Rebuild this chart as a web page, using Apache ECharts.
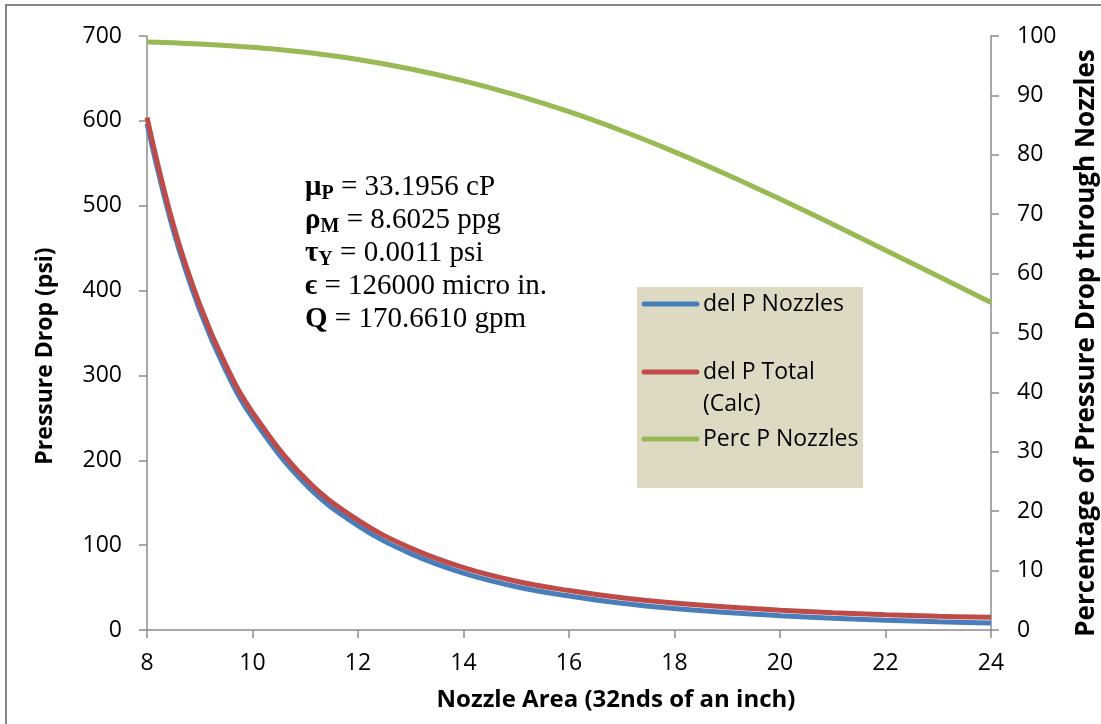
<!DOCTYPE html>
<html>
<head>
<meta charset="utf-8">
<script src="https://cdn.jsdelivr.net/npm/echarts@6/dist/echarts.min.js"></script>
<style>
  html, body { margin: 0; padding: 0; background: #ffffff; }
  #chart { width: 1101px; height: 724px; }
</style>
</head>
<body>
<div id="chart"></div>
<script>
// Nozzle size in 32nds of an inch
const nozzleSizes = [8, 8.5, 9, 9.5, 10, 11, 12, 13, 14, 15, 16, 17, 18, 19, 20, 21, 22, 23, 24];
// Pressure drop across the nozzles (psi)
const delPNozzles = [597, 471, 377, 305, 250, 172, 123, 90, 67, 51, 40, 31.6, 25.3, 20.5, 16.8, 13.9, 11.5, 9.7, 8.3];
// Total calculated pressure drop (psi)
const delPTotal = [604, 477.5, 383.5, 311.5, 256.5, 178.5, 129.5, 96.5, 73.5, 57.5, 46.5, 38, 31.8, 27, 23.3, 20.4, 18, 16.2, 15];
// Share of the total drop taken by the nozzles (%)
const percPNozzles = [99.0, 98.85, 98.65, 98.4, 98.1, 97.25, 96.05, 94.45, 92.45, 90.05, 87.25, 84.05, 80.5, 76.65, 72.55, 68.3, 63.95, 59.55, 55.15];

const seriesNames = ['del P Nozzles', 'del P Total (Calc)', 'Perc P Nozzles'];
const legendLabels = ['del P Nozzles', 'del P Total\n(Calc)', 'Perc P Nozzles'];
const seriesColors = ['#4A7EBB', '#BE4B48', '#98B954'];

const axisTitles = {
  x: 'Nozzle Area (32nds of an inch)',
  left: 'Pressure Drop (psi)',
  right: 'Percentage of Pressure Drop through Nozzles'
};

const SANS = '"Open Sans", "Noto Sans", sans-serif';
const SERIF = '"Liberation Serif", "DejaVu Serif", serif';
const AXIS_GREY = '#8c8c8c';

const pair = (xs, ys) => xs.map((x, i) => [x, ys[i]]);

const chart = echarts.init(document.getElementById('chart'), null, { renderer: 'canvas' });

const axisCommon = {
  axisLine: { show: true, lineStyle: { color: AXIS_GREY, width: 1.5 } },
  axisTick: { show: true, inside: false, length: 8, lineStyle: { color: AXIS_GREY, width: 1.5 } },
  splitLine: { show: false },
  axisLabel: { color: '#000', fontFamily: SANS, fontSize: 23 }
};

// Hand-built legend panel
const legendGraphics = [
  { type: 'rect', shape: { x: 637, y: 287, width: 226, height: 201 }, style: { fill: '#DDD9C3' }, z: 10 }
];
const legendRows = [304, 372, 439];
legendRows.forEach((y, i) => {
  legendGraphics.push({
    type: 'line', z: 11,
    shape: { x1: 644, y1: y, x2: 697, y2: y },
    style: { stroke: seriesColors[i], lineWidth: 5, lineCap: 'round' }
  });
  legendGraphics.push({
    type: 'text', z: 11, x: 703, y: y - 16,
    style: {
      text: legendLabels[i], fill: '#000', font: '23px ' + SANS,
      lineHeight: 32, textAlign: 'left', textVerticalAlign: 'top'
    }
  });
});

// Fluid property annotation
const noteText = [
  '{g|μ}{s|P}{t| = 33.1956 cP}',
  '{g|ρ}{s|M}{t| = 8.6025 ppg}',
  '{g|τ}{s|Y}{t| = 0.0011 psi}',
  '{g|ϵ}{t| = 126000 micro in.}',
  '{g|Q}{t| = 170.6610 gpm}'
].join('\n');

const option = {
  animation: false,
  backgroundColor: '#ffffff',
  grid: { left: 147, right: 110, top: 36, bottom: 94, containLabel: false },
  xAxis: Object.assign({}, axisCommon, {
    type: 'value', min: 8, max: 24, interval: 2,
    axisLabel: Object.assign({}, axisCommon.axisLabel, { margin: 22 })
  }),
  yAxis: [
    Object.assign({}, axisCommon, {
      type: 'value', min: 0, max: 700, interval: 100, position: 'left',
      axisLabel: Object.assign({}, axisCommon.axisLabel, { margin: 25 })
    }),
    Object.assign({}, axisCommon, {
      type: 'value', min: 0, max: 100, interval: 10, position: 'right',
      axisLabel: Object.assign({}, axisCommon.axisLabel, { margin: 26 })
    })
  ],
  series: [
    {
      name: seriesNames[0], type: 'line', yAxisIndex: 0, data: pair(nozzleSizes, delPNozzles),
      smooth: 0.4, showSymbol: false,
      lineStyle: { color: seriesColors[0], width: 5 }, z: 2
    },
    {
      name: seriesNames[1], type: 'line', yAxisIndex: 0, data: pair(nozzleSizes, delPTotal),
      smooth: 0.4, showSymbol: false,
      lineStyle: { color: seriesColors[1], width: 5 }, z: 3
    },
    {
      name: seriesNames[2], type: 'line', yAxisIndex: 1, data: pair(nozzleSizes, percPNozzles),
      smooth: 0.4, showSymbol: false,
      lineStyle: { color: seriesColors[2], width: 5 }, z: 4
    }
  ],
  graphic: [
    // chart frame
    { type: 'rect', shape: { x: 6, y: 5, width: 1200, height: 800 }, style: { fill: 'none', stroke: '#878787', lineWidth: 2 }, z: 0 },
    // axis titles
    {
      type: 'text', x: 616, y: 700,
      style: { text: axisTitles.x, font: 'bold 24px ' + SANS, fill: '#000', textAlign: 'center', textVerticalAlign: 'middle' }
    },
    {
      type: 'text', x: 45, y: 356, rotation: Math.PI / 2,
      style: { text: axisTitles.left, font: 'bold 23px ' + SANS, fill: '#000', textAlign: 'center', textVerticalAlign: 'middle' }
    },
    {
      type: 'text', x: 1087, y: 343, rotation: Math.PI / 2,
      style: { text: axisTitles.right, font: 'bold 26px ' + SANS, fill: '#000', textAlign: 'center', textVerticalAlign: 'middle' }
    },
    {
      type: 'text', x: 305, y: 171, z: 12,
      style: {
        text: noteText, fill: '#000', textAlign: 'left', textVerticalAlign: 'top',
        lineHeight: 33,
        rich: {
          g: { fontFamily: SERIF, fontWeight: 'bold', fontSize: 29, lineHeight: 33, fill: '#000' },
          s: { fontFamily: SERIF, fontWeight: 'bold', fontSize: 20, lineHeight: 33, padding: [12, 0, 0, 0], fill: '#000' },
          t: { fontFamily: SERIF, fontSize: 29, lineHeight: 33, fill: '#000' }
        }
      }
    }
  ].concat(legendGraphics)
};

chart.setOption(option);
</script>
</body>
</html>
